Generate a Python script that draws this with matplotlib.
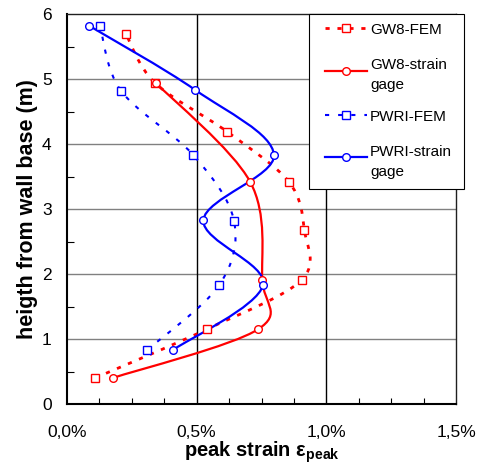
import matplotlib
matplotlib.use("Agg")
import matplotlib.pyplot as plt
from matplotlib.path import Path
from matplotlib.patches import PathPatch, Rectangle
from matplotlib.lines import Line2D
from matplotlib.ticker import MultipleLocator, FuncFormatter
import numpy as np

plt.rcParams['font.family'] = ['Liberation Sans', 'DejaVu Sans']
plt.rcParams['mathtext.fontset'] = 'custom'
plt.rcParams['mathtext.rm'] = 'Liberation Sans'
plt.rcParams['mathtext.bf'] = 'Liberation Sans:bold'

# ---- data (strain in %, height in m) ----
gw8_fem_x = [0.108, 0.539, 0.905, 0.915, 0.855, 0.617, 0.339, 0.226]
gw8_fem_y = [0.40, 1.15, 1.91, 2.68, 3.42, 4.19, 4.94, 5.70]

gw8_sg_x = [0.176, 0.737, 0.753, 0.706, 0.343]
gw8_sg_y = [0.40, 1.15, 1.91, 3.42, 4.94]

pwri_fem_x = [0.309, 0.587, 0.644, 0.487, 0.208, 0.127]
pwri_fem_y = [0.83, 1.83, 2.82, 3.83, 4.82, 5.82]

pwri_sg_x = [0.408, 0.756, 0.526, 0.798, 0.495, 0.085]
pwri_sg_y = [0.83, 1.83, 2.83, 3.83, 4.83, 5.82]

labels = ["GW8-FEM", "GW8-strain\ngage", "PWRI-FEM", "PWRI-strain\ngage"]

XMAX, YMAX = 1.5, 6.0

fig = plt.figure(figsize=(4.78, 4.68), dpi=100)
ax = fig.add_axes([67/478, 64/468, 389/478, 390/468])


def smooth_path(xs, ys):
    # Excel-like smoothed line: cubic Bezier segments through the points
    P = np.column_stack([np.asarray(xs) / XMAX, np.asarray(ys) / YMAX])
    n = len(P)
    verts = [P[0]]
    codes = [Path.MOVETO]
    for i in range(n - 1):
        p0 = P[i - 1] if i > 0 else P[i]
        p1, p2 = P[i], P[i + 1]
        p3 = P[i + 2] if i + 2 < n else P[i + 1]
        c1 = p1 + (p2 - p0) / 6.0
        c2 = p2 - (p3 - p1) / 6.0
        verts += [c1, c2, p2]
        codes += [Path.CURVE4] * 3
    V = np.array(verts) * np.array([XMAX, YMAX])
    return Path(V, codes)


series = [
    (gw8_fem_x, gw8_fem_y, dict(color='#FF0000', lw=2.0, dashes=(1.5, 2.8)), 's'),
    (gw8_sg_x, gw8_sg_y, dict(color='#FF0000', lw=1.6, dashes=None), 'o'),
    (pwri_fem_x, pwri_fem_y, dict(color='#0000FF', lw=1.5, dashes=(2.0, 4.3)), 's'),
    (pwri_sg_x, pwri_sg_y, dict(color='#0000FF', lw=1.6, dashes=None), 'o'),
]

styles = []
for (xs, ys, st, mk), lab in zip(series, labels):
    ls = (0, st['dashes']) if st['dashes'] else '-'
    patch = PathPatch(smooth_path(xs, ys), fill=False, edgecolor=st['color'],
                      lw=st['lw'], linestyle=ls, zorder=3, capstyle='butt')
    ax.add_patch(patch)
    ax.plot(xs, ys, linestyle='none', marker=mk, markersize=5.5,
            markerfacecolor='white', markeredgecolor=st['color'],
            markeredgewidth=1.0, zorder=4)
    styles.append((st, ls, mk))

ax.set_xlim(0, XMAX)
ax.set_ylim(0, YMAX)

ax.xaxis.set_major_locator(MultipleLocator(0.5))
ax.xaxis.set_minor_locator(MultipleLocator(0.125))
ax.yaxis.set_major_locator(MultipleLocator(1))
ax.yaxis.set_minor_locator(MultipleLocator(0.5))
ax.xaxis.set_major_formatter(FuncFormatter(lambda v, p: f"{v:.1f}%".replace('.', ',')))

ax.tick_params(axis='both', which='both', direction='in', color='black')
ax.tick_params(axis='x', which='major', length=0, pad=15, labelsize=12.5)
ax.tick_params(axis='x', which='minor', length=4, width=0.8)
ax.tick_params(axis='y', which='major', length=0, pad=11, labelsize=12.5)
ax.tick_params(axis='y', which='minor', length=5, width=0.8)

for yv in range(1, 6):
    ax.axhline(yv, color='#808080', lw=1.0, zorder=1)
for xv in (0.5, 1.0):
    ax.axvline(xv, color='black', lw=1.0, zorder=1)

for s in ('top', 'right'):
    ax.spines[s].set_linewidth(1.0)
    ax.spines[s].set_color('#202020')
for s in ('left', 'bottom'):
    ax.spines[s].set_linewidth(1.5)
    ax.spines[s].set_color('black')

ax.set_xlabel(r'peak strain ε$_{\mathbf{peak}}$', fontsize=14.5, fontweight='bold', labelpad=0)
ax.set_ylabel('heigth from wall base (m)', fontsize=15.5, fontweight='bold', labelpad=3)

# ---- legend box (Excel style: key aligned with first text line) ----
fx0, fx1 = 0.622, 1.0206
fy0, fy1 = 0.5513, 1.0
ax.add_patch(Rectangle((fx0, fy0), fx1 - fx0, fy1 - fy0, transform=ax.transAxes,
                       facecolor='white', edgecolor='black', lw=0.8,
                       clip_on=False, zorder=10))
key_x0, key_x1, txt_x = 0.6632, 0.7712, 0.7789
entry_y = [0.964, 0.854, 0.741, 0.633]
for (st, ls, mk), lab, yy in zip(styles, labels, entry_y):
    ax.add_line(Line2D([key_x0, key_x1], [yy, yy], transform=ax.transAxes,
                       color=st['color'], lw=st['lw'], linestyle=ls,
                       clip_on=False, zorder=11))
    ax.add_line(Line2D([(key_x0 + key_x1) / 2], [yy], transform=ax.transAxes,
                       linestyle='none', marker=mk, markersize=5.5,
                       markerfacecolor='white', markeredgecolor=st['color'],
                       markeredgewidth=1.0, clip_on=False, zorder=12))
    ax.text(txt_x, yy, lab, transform=ax.transAxes, fontsize=11,
            ha='left', va='center_baseline', linespacing=1.55, zorder=12)

fig.savefig('out.png', dpi=100, facecolor='white')
